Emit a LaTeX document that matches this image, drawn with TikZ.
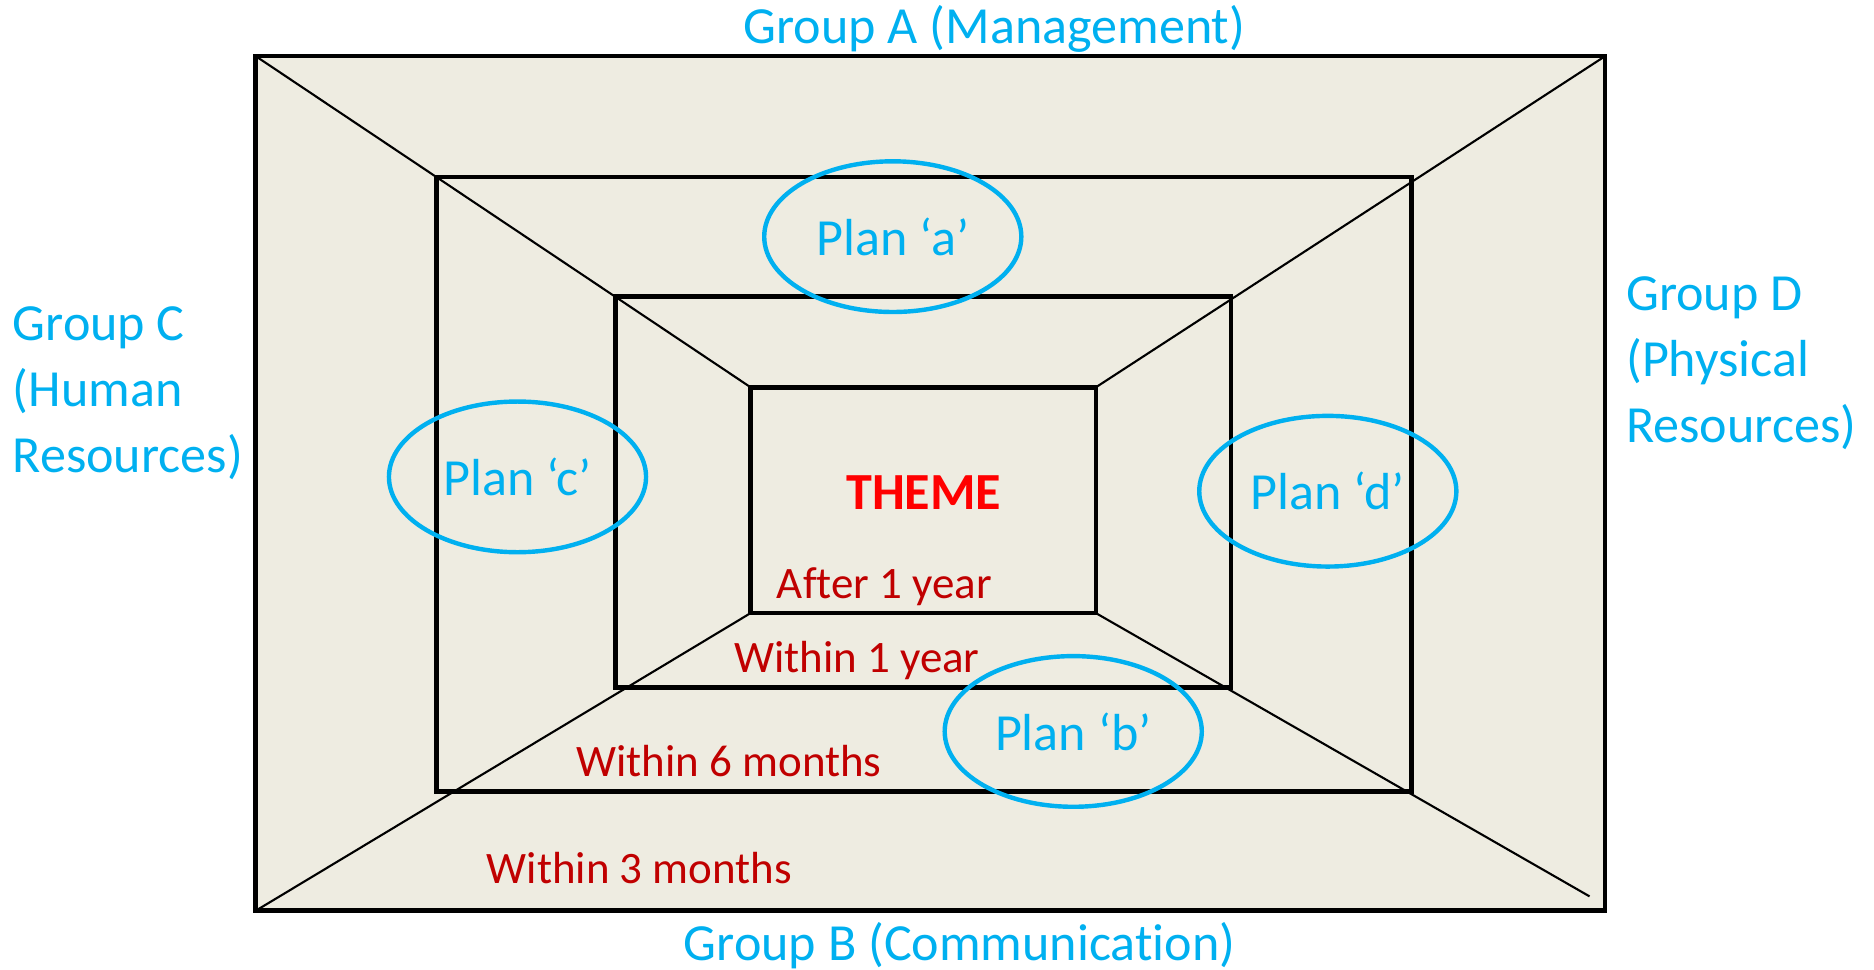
\documentclass[tikz,border=0pt]{standalone}
\usepackage{fontspec}
\setmainfont{Carlito}[Ligatures=CommonOff]
\usepackage{tikz}
\usetikzlibrary{shapes.geometric}
\definecolor{planblue}{HTML}{00B0F0}
\definecolor{paper}{HTML}{EEECE1}
\definecolor{darkred}{HTML}{C00000}

\begin{document}
\begin{tikzpicture}[
x=0.01cm, y=-0.01cm,
frame/.style={line width=1.1pt},
diag/.style={line width=0.5pt},
plan/.style={ellipse,draw=planblue,line width=1.05pt,text=planblue,minimum width=2.15cm,minimum height=1.26cm,inner sep=0pt,font=\fontsize{12.4}{15}\selectfont},
group/.style={text=planblue,inner sep=0pt,align=left,font=\fontsize{12.4}{15.65}\selectfont},
period/.style={text=darkred,inner sep=0pt,anchor=base,font=\fontsize{10.7}{13}\selectfont}]
    \useasboundingbox (0,0) rectangle (1568,811);

    % Draw background and corners
    \fill[paper] (214,47) rectangle (1343,762);
    \draw
    (214,47) coordinate (o1)
    (1343,47) coordinate (o2)
    (1343,762) coordinate (o3)
    (214,762) coordinate (o4);
    \draw
    (628,324) coordinate (i1)
    (917,324) coordinate (i2)
    (917,513) coordinate (i3)
    (628,513) coordinate (i4);
    \coordinate (e3) at (1330,750);

    % Draw diagonals
    \draw[diag] (o1) -- (i1);
    \draw[diag] (o2) -- (i2);
    \draw[diag] (o4) -- (i4);
    \draw[diag] (i3) -- (e3);

    % Draw frames
    \draw[frame] (o1) rectangle (o3);
    \draw[frame] (365,148) rectangle (1181,662);
    \draw[frame] (515,248) rectangle (1030,575);
    \draw[frame] (i1) rectangle (i3);

    % Plans
    \node[plan] (plana) at (747,198) {Plan ‘a’};
    \node[plan] (planc) at (433,399) {Plan ‘c’};
    \node[plan] (pland) at (1111,411) {Plan ‘d’};
    \node[plan] (planb) at (898,612) {Plan ‘b’};

    % Groups
    \node[group,anchor=base] (groupa) at (832,36) {Group A (Management)};
    \node[group,anchor=base] (groupb) at (803,804) {Group B (Communication)};
    \node[group,anchor=base west] (groupc) at (10,395) {Group C\\(Human\\Resources)};
    \node[group,anchor=base west] (groupd) at (1360,370) {Group D\\(Physical\\Resources)};

    % Theme and periods
    \node[text=red,inner sep=0pt,anchor=base,font=\fontsize{12.4}{15}\selectfont\bfseries] (theme) at (773,426) {THEME};
    \node[period] (p1) at (740,501) {After 1 year};
    \node[period] (p2) at (717,563) {Within 1 year};
    \node[period] (p3) at (610,650) {Within 6 months};
    \node[period] (p4) at (535,739) {Within 3 months};

\end{tikzpicture}
\end{document}
